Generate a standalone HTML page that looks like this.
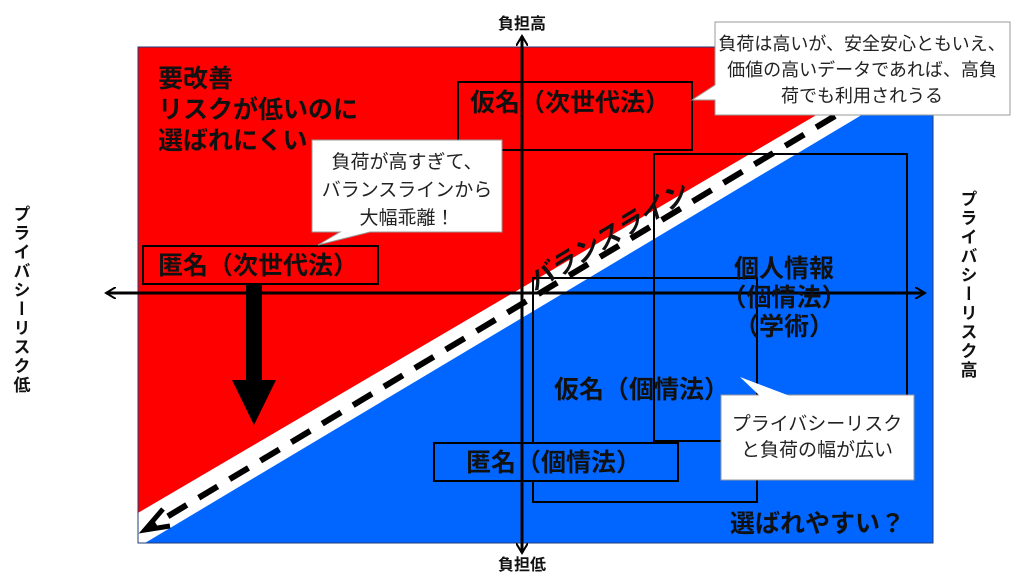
<!DOCTYPE html>
<html><head><meta charset="utf-8"><style>
body{margin:0;background:#fff;}
svg text{font-family:"Liberation Sans","Noto Sans CJK JP",sans-serif;}
</style></head><body>
<svg width="1024" height="576" viewBox="0 0 1024 576" xmlns="http://www.w3.org/2000/svg">
<defs>
<marker id="ah" markerWidth="12" markerHeight="12" refX="10" refY="6" orient="auto-start-reverse" markerUnits="userSpaceOnUse"><path d="M0,0 L10,6 L0,12" fill="none" stroke="#000" stroke-width="2"/></marker>
</defs>
<polygon points="138,47 933,47 933,113 820,113 138,513" fill="#ff0000"/>
<polygon points="138,513 820,113 865,113 145,543 138,543" fill="#fff"/>
<polygon points="865,113 933,113 933,543 145,543" fill="#0066ff"/>
<rect x="138" y="47" width="795" height="496" fill="none" stroke="#1f3a7a" stroke-width="1"/>
<line x1="835" y1="116" x2="150" y2="527" stroke="#000" stroke-width="6" stroke-dasharray="22,14"/>
<polyline points="163,509 145,530 170,526" fill="none" stroke="#000" stroke-width="5"/>
<rect x="458" y="82" width="234" height="68" fill="#ff0000" stroke="#000" stroke-width="2"/>
<rect x="654" y="154" width="253" height="287" fill="none" stroke="#000" stroke-width="2"/>
<rect x="533" y="278" width="224" height="224" fill="none" stroke="#000" stroke-width="2"/>
<rect x="434" y="443" width="244" height="38" fill="#0066ff" stroke="#000" stroke-width="2"/>
<rect x="143" y="246" width="235" height="38" fill="#ff0000" stroke="#000" stroke-width="2"/>
<rect x="246" y="284" width="16" height="96" fill="#000"/>
<polygon points="232,380 276,380 254,425" fill="#000"/>
<line x1="106" y1="293" x2="925" y2="293" stroke="#000" stroke-width="3" marker-end="url(#ah)" marker-start="url(#ah)"/>
<line x1="522" y1="553" x2="522" y2="36" stroke="#000" stroke-width="3" marker-end="url(#ah)" marker-start="url(#ah)"/>
<path d="M312,140 H502 V232 H370 L318,245 L340,232 H312 Z" fill="#fff" stroke="#999" stroke-width="1"/>
<path d="M715,22 H1010 V115 H715 V100 L692,100 L715,85 Z" fill="#fff" stroke="#999" stroke-width="1"/>
<path d="M721,395 H914 V480 H721 Z" fill="#fff" stroke="#999" stroke-width="1"/>
<polygon points="740,377 790,396 760,396" fill="#fff"/>
<g font-size="19" fill="#222" text-anchor="middle">
<text x="407" y="168">負荷が高すぎて、</text>
<text x="407" y="196">バランスラインから</text>
<text x="407" y="224">大幅乖離！</text>
<text x="817" y="430">プライバシーリスク</text>
<text x="817" y="456">と負荷の幅が広い</text>
</g>
<g font-size="18" fill="#222" text-anchor="middle">
<text x="862" y="50">負荷は高いが、安全安心ともいえ、</text>
<text x="862" y="76">価値の高いデータであれば、高負</text>
<text x="862" y="102">荷でも利用されうる</text>
</g>
<g font-size="25" font-weight="bold" fill="#111">
<text x="158" y="87">要改善</text>
<text x="158" y="118">リスクが低いのに</text>
<text x="158" y="149">選ばれにくい</text>
<text x="470" y="111">仮名（次世代法）</text>
<text x="158" y="274">匿名（次世代法）</text>
<text x="554" y="398">仮名（個情法）</text>
<text x="466" y="471">匿名（個情法）</text>
<text x="730" y="532">選ばれやすい？</text>
<text x="784" y="277" text-anchor="middle">個人情報</text>
<text x="784" y="306" text-anchor="middle">（個情法）</text>
<text x="784" y="335" text-anchor="middle">（学術）</text>
<text transform="translate(612,245) rotate(-31)" text-anchor="middle" font-style="italic" font-size="26">バランスライン</text>
</g>
<g font-size="16" font-weight="bold" fill="#111" text-anchor="middle">
<text x="522" y="29">負担高</text>
<text x="522" y="570">負担低</text>
</g>
<g font-size="17" font-weight="bold" fill="#111">
<text x="20" y="205" style="writing-mode:vertical-rl;letter-spacing:2px">プライバシーリスク低</text>
<text x="967" y="190" style="writing-mode:vertical-rl;letter-spacing:2px">プライバシーリスク高</text>
</g>
</svg>
</body></html>
